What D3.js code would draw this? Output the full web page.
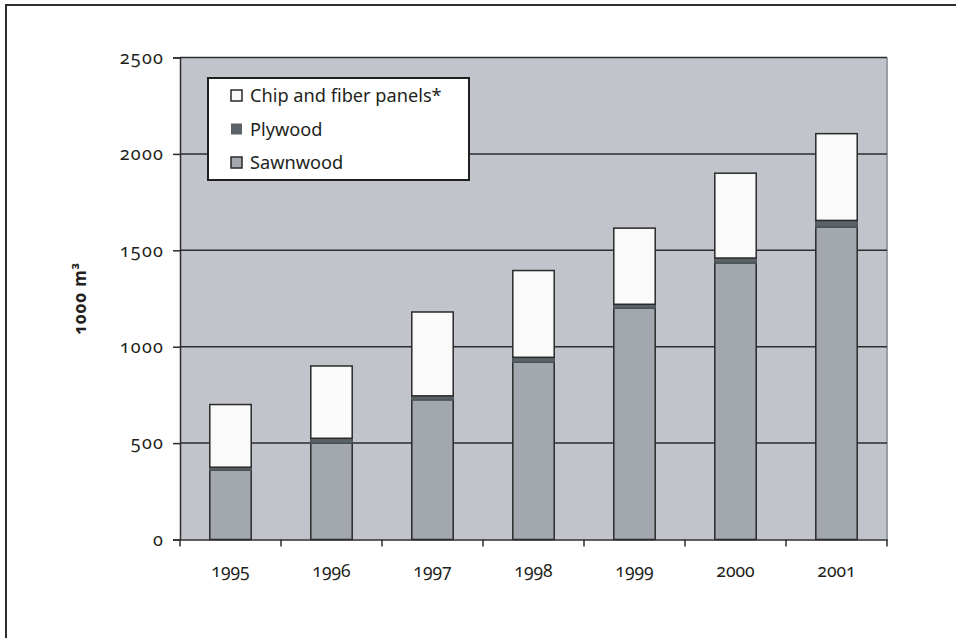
<!DOCTYPE html>
<html>
<head>
<meta charset="utf-8">
<script src="https://cdn.jsdelivr.net/npm/d3@7"></script>
<style>
  html, body { margin: 0; padding: 0; background: #ffffff; }
  svg { display: block; }
  text { font-family: "Noto Sans", "Open Sans", sans-serif; fill: #231f20; font-variant-numeric: oldstyle-nums; font-feature-settings: "onum" 1; }
</style>
</head>
<body>
<svg id="chart" width="956" height="638"></svg>
<script>
// Wood product output, 1000 m³
const years = ["1995", "1996", "1997", "1998", "1999", "2000", "2001"];
const sawnwood = [360, 500, 725, 920, 1200, 1435, 1620];
const plywood = [15, 25, 20, 25, 20, 25, 35];
const chipFiber = [325, 375, 435, 450, 395, 440, 450];
const yTicks = [0, 500, 1000, 1500, 2000, 2500];
const seriesNames = ["Chip and fiber panels*", "Plywood", "Sawnwood"];

const colors = {
  "Sawnwood": "#a3a8af",
  "Plywood": "#5a6367",
  "Chip and fiber panels*": "#fafafa"
};

const svg = d3.select("#chart");
const W = 956, H = 638;
const m = { left: 180, right: 69, top: 57.5, bottom: 98.5 };
const pw = W - m.left - m.right;
const ph = H - m.top - m.bottom;

// Outer frame (runs past the right and bottom page edges)
svg.append("rect")
  .attr("x", 6).attr("y", 5)
  .attr("width", W + 20).attr("height", H + 20)
  .attr("fill", "none").attr("stroke", "#2e2e2e").attr("stroke-width", 2);

const g = svg.append("g").attr("transform", `translate(${m.left},${m.top})`);

const x = d3.scaleBand().domain(years).range([0, pw]).padding(0);
const y = d3.scaleLinear().domain([0, 2500]).range([ph, 0]);

// Plot background
g.append("rect")
  .attr("x", 0).attr("y", 0).attr("width", pw).attr("height", ph)
  .attr("fill", "#c1c4cb");
g.append("line")
  .attr("x1", pw).attr("x2", pw).attr("y1", 0).attr("y2", ph)
  .attr("stroke", "#9a9ea5").attr("stroke-width", 2);

// Horizontal grid lines
g.append("g").selectAll("line")
  .data(yTicks.filter(d => d > 0))
  .join("line")
  .attr("x1", 0).attr("x2", pw)
  .attr("y1", d => y(d)).attr("y2", d => y(d))
  .attr("stroke", "#2d2d2f").attr("stroke-width", 1.5);

// Stacked data
const rows = years.map((yr, i) => ({
  year: yr,
  "Sawnwood": sawnwood[i],
  "Plywood": plywood[i],
  "Chip and fiber panels*": chipFiber[i]
}));
const stack = d3.stack().keys(["Sawnwood", "Plywood", "Chip and fiber panels*"]);
const layers = stack(rows);

const barW = x.bandwidth() * 0.41;
const barOff = (x.bandwidth() - barW) / 2;

g.append("g").selectAll("g")
  .data(layers)
  .join("g")
  .attr("fill", d => colors[d.key])
  .selectAll("rect")
  .data(d => d.map(v => ({ key: d.key, v })))
  .join("rect")
  .attr("x", d => x(d.v.data.year) + barOff)
  .attr("width", barW)
  .attr("y", d => y(d.v[1]))
  .attr("height", d => y(d.v[0]) - y(d.v[1]))
  .attr("stroke", d => d.key === "Plywood" ? "#4e565a" : "#2a2a2a")
  .attr("stroke-width", 1.5);

// Y axis
const yAxis = g.append("g")
  .call(d3.axisLeft(y).tickValues(yTicks).tickSize(7).tickPadding(9).tickFormat(d3.format("d")));
yAxis.select(".domain").attr("stroke", "#2d2d2f").attr("stroke-width", 1.5);
yAxis.selectAll(".tick line").attr("stroke", "#2d2d2f").attr("stroke-width", 1.5);
yAxis.selectAll(".tick text")
  .attr("font-size", 18).attr("letter-spacing", 1.2).attr("fill", "#231f20");

// X axis: baseline, boundary ticks, centred labels
const xAxis = g.append("g").attr("transform", `translate(0,${ph})`)
  .call(d3.axisBottom(x).tickSize(0).tickPadding(25));
xAxis.select(".domain").attr("stroke", "#2d2d2f").attr("stroke-width", 1.5);
xAxis.selectAll(".tick text")
  .attr("font-size", 17.5).attr("fill", "#231f20");
const bounds = years.map(d => x(d)).concat([x(years[years.length - 1]) + x.bandwidth()]);
g.append("g").attr("transform", `translate(0,${ph})`)
  .selectAll("line").data(bounds).join("line")
  .attr("x1", d => d).attr("x2", d => d)
  .attr("y1", 0).attr("y2", 7)
  .attr("stroke", "#2d2d2f").attr("stroke-width", 1.5);

// Y axis title
svg.append("text")
  .attr("transform", `translate(86,${m.top + ph / 2}) rotate(-90)`)
  .attr("text-anchor", "middle")
  .attr("font-size", 17)
  .attr("font-weight", "bold")
  .attr("letter-spacing", 0.8)
  .text("1000 m³");

// Legend
const lg = svg.append("g").attr("transform", "translate(208,78)");
lg.append("rect")
  .attr("x", 0).attr("y", 0).attr("width", 261).attr("height", 102)
  .attr("fill", "#ffffff").attr("stroke", "#1f1f1f").attr("stroke-width", 2);
const items = lg.selectAll("g.item").data(seriesNames).join("g")
  .attr("class", "item")
  .attr("transform", (d, i) => `translate(23,${17.5 + i * 33.5})`);
items.append("rect")
  .attr("x", 0).attr("y", -5.5).attr("width", 11).attr("height", 11)
  .attr("fill", d => colors[d])
  .attr("stroke", d => d === "Plywood" ? "none" : "#2a2a2a")
  .attr("stroke-width", 1.5);
items.append("text")
  .attr("x", 19).attr("y", 6.5)
  .attr("font-size", 18.2)
  .text(d => d);
</script>
</body>
</html>
